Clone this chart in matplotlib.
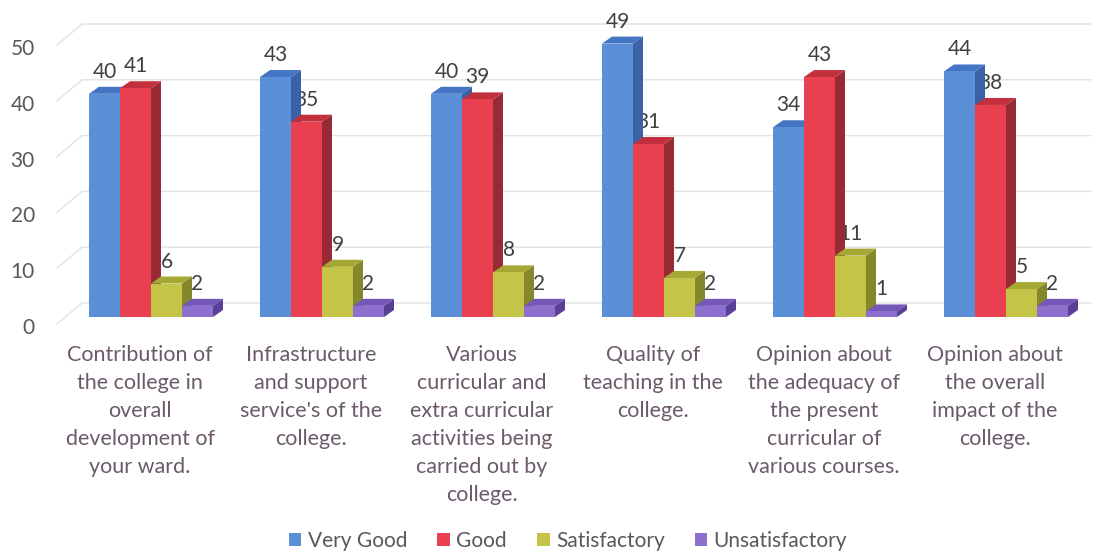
import matplotlib
matplotlib.use("Agg")
import matplotlib.pyplot as plt
from matplotlib.patches import Polygon, Patch
from matplotlib.transforms import ScaledTranslation
import numpy as np

plt.rcParams['font.family'] = ['Lato', 'DejaVu Sans']

categories = [
    "Contribution of\nthe college in\noverall\ndevelopment of\nyour ward.",
    "Infrastructure\nand support\nservice's of the\ncollege.",
    "Various\ncurricular and\nextra curricular\nactivities being\ncarried out by\ncollege.",
    "Quality of\nteaching in the\ncollege.",
    "Opinion about\nthe adequacy of\nthe present\ncurricular of\nvarious courses.",
    "Opinion about\nthe overall\nimpact of the\ncollege.",
]
series_names = ["Very Good", "Good", "Satisfactory", "Unsatisfactory"]
very_good = [40, 43, 40, 49, 34, 44]
good = [41, 35, 39, 31, 43, 38]
satisfactory = [6, 9, 8, 7, 11, 5]
unsatisfactory = [2, 2, 2, 2, 1, 2]
y_ticks = [0, 10, 20, 30, 40, 50]

series = [very_good, good, satisfactory, unsatisfactory]
front_cols = ['#5b8fd8', '#e8404f', '#c4c548', '#8d6fcd']
top_cols = ['#4474c4', '#c2303e', '#a6a834', '#7458b8']
side_cols = ['#3a62a6', '#982a36', '#85872b', '#5a3f96']

W, H = 1098, 554
fig = plt.figure(figsize=(W / 100, H / 100), dpi=100)

# layout in pixels
cat_px = 171.0
x0_px = 140.0
zero_px = 317.0
unit_px = 5.58
xlim = (-0.55, 5.6)
ylim = (-2, 56)
left_px = x0_px + xlim[0] * cat_px
right_px = x0_px + xlim[1] * cat_px
bot_px = zero_px - ylim[0] * unit_px
top_px = zero_px - ylim[1] * unit_px
ax = fig.add_axes([left_px / W, 1 - bot_px / H, (right_px - left_px) / W, (bot_px - top_px) / H])
ax.set_xlim(*xlim)
ax.set_ylim(*ylim)
for s in ax.spines.values():
    s.set_visible(False)

# depth offsets
bar_dx = 10 / cat_px
bar_dy = 7 / unit_px
wall_x0 = (57 - x0_px) / cat_px
wall_x1 = (82 - x0_px) / cat_px
wall_d0 = -7 / unit_px
wall_d1 = 14 / unit_px
grid_col = '#e2e2e2'

# gridlines (side wall + back wall)
for v in y_ticks:
    ax.plot([wall_x0, wall_x1, 5.56], [v + wall_d0, v + wall_d1, v + wall_d1],
            color=grid_col, lw=1, zorder=0)

bw = 31 / cat_px
grp_off = 11 / cat_px
n = len(series)
z = 3
for i in range(len(categories)):
    for j, vals in enumerate(series):
        h = vals[i]
        xl = i + grp_off - n * bw / 2 + j * bw
        xr = xl + bw
        ax.add_patch(Polygon([(xr, 0), (xr + bar_dx, bar_dy), (xr + bar_dx, h + bar_dy), (xr, h)],
                             closed=True, fc=side_cols[j], ec='none', zorder=z))
        ax.add_patch(Polygon([(xl, h), (xl + bar_dx, h + bar_dy), (xr + bar_dx, h + bar_dy), (xr, h)],
                             closed=True, fc=top_cols[j], ec='none', zorder=z))
        ax.bar(xl, h, width=bw, align='edge', color=front_cols[j], edgecolor='none', zorder=z + 0.5)
        ax.annotate(str(h), (xl + bw / 2, h), xytext=(0, 22), textcoords='offset pixels',
                    ha='center', va='center', fontsize=15, color='#404040', zorder=2)
        z += 1

# y tick labels
ax.set_xticks([])
ax.set_yticks(y_ticks)
ax.set_yticklabels([str(v) for v in y_ticks])
ax.tick_params(axis='y', length=0, pad=8, labelsize=15, labelcolor='#595959')
off = ScaledTranslation(0, -9 / 100, fig.dpi_scale_trans)
for lab in ax.get_yticklabels():
    lab.set_transform(lab.get_transform() + off)

# category labels
for i, c in enumerate(categories):
    ax.annotate(c, (i, 0), xytext=(0, -28), textcoords='offset pixels', ha='center', va='top',
                fontsize=15.5, color='#6a5a6a', linespacing=1.5, annotation_clip=False)

handles = [Patch(facecolor=c, edgecolor='none') for c in front_cols]
fig.legend(handles, series_names, loc='center', bbox_to_anchor=(568 / W, 1 - 541 / H), ncol=4,
           frameon=False, handlelength=0.6, handleheight=0.6, handletextpad=0.3,
           columnspacing=1.45, fontsize=15, labelcolor='#595959')

fig.savefig('out.png', dpi=100)
